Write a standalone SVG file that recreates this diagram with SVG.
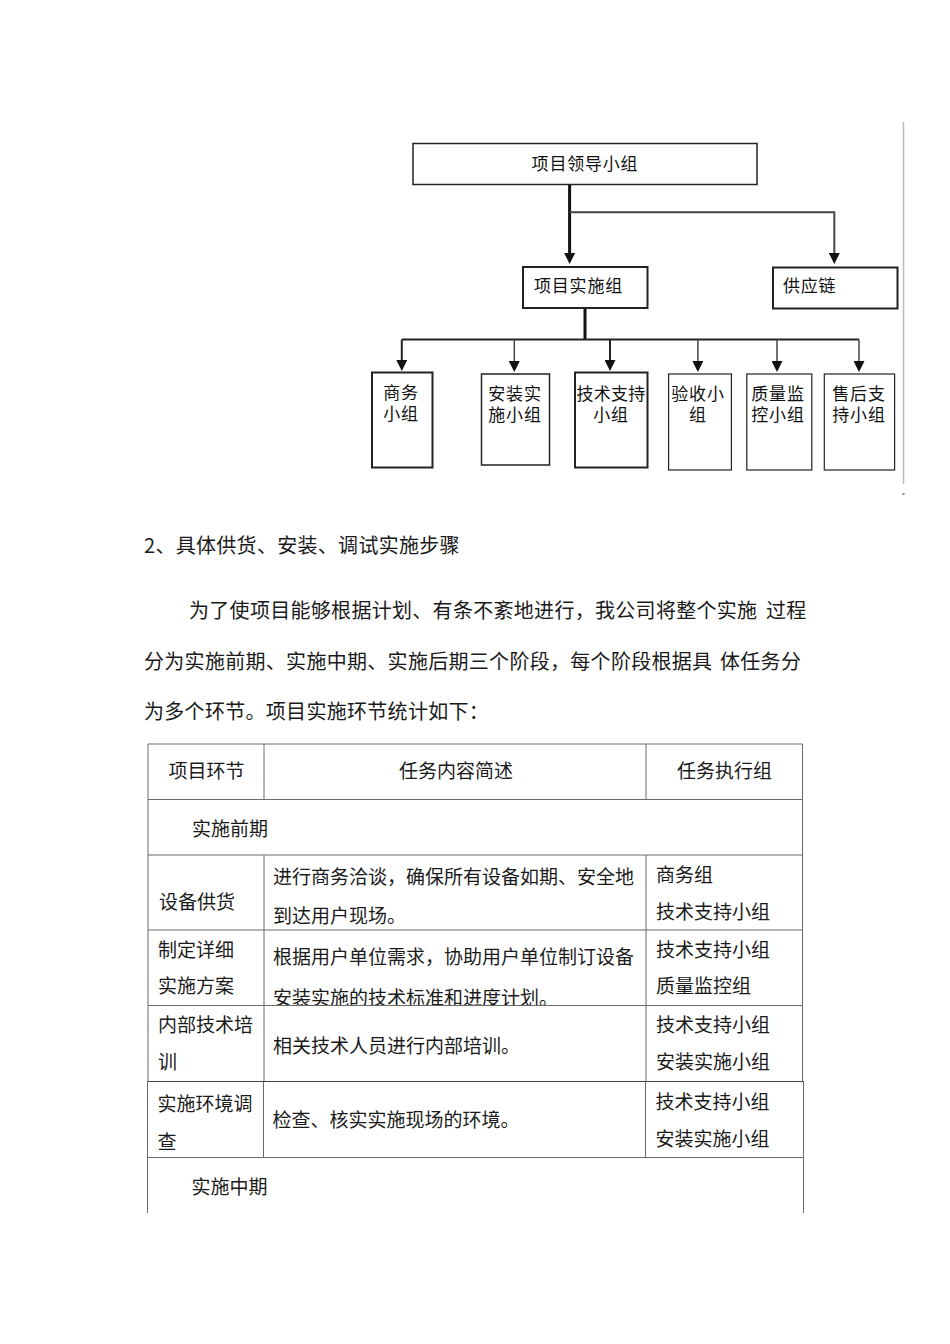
<svg xmlns="http://www.w3.org/2000/svg" width="950" height="1344" viewBox="0 0 950 1344">
<style>
.org{font-family:"Noto Sans CJK SC","Noto Sans",sans-serif;font-size:17px;fill:#111;letter-spacing:0.8px}
.mid{text-anchor:middle}
.body{font-family:"Noto Sans CJK SC","Noto Sans",sans-serif;font-size:20px;fill:#1a1a1a;letter-spacing:0.3px}
.tb{font-family:"Noto Sans CJK SC","Noto Sans",sans-serif;font-size:19px;fill:#1a1a1a}
.box{fill:#fff;stroke:#222}
.tl{stroke:#6a6a6a;stroke-width:1;fill:none}
.c{fill:none;marker-end:url(#ah)}
</style>
<defs>
<marker id="ah" markerUnits="userSpaceOnUse" markerWidth="11" markerHeight="11" viewBox="0 0 11 11" refX="3" refY="5.5" orient="auto">
<path d="M0,0 L11,5.5 L0,11 z" fill="#111"/>
</marker>
<clipPath id="r2clip"><rect x="264" y="930" width="382" height="75"/></clipPath>
</defs>
<rect width="950" height="1344" fill="#fff"/>

<!-- page edge line -->
<line x1="903.5" y1="122" x2="903.5" y2="484" stroke="#bbb" stroke-width="1.5"/>
<rect x="902.5" y="493" width="2" height="2" fill="#888"/>

<g id="connectors">
<path class="c" d="M569.6,184 V256" stroke="#111" stroke-width="3"/>
<path class="c" d="M569.6,212.3 H834.3 V256" stroke="#444" stroke-width="2"/>
<path d="M585,308 V339.5" stroke="#111" stroke-width="3" fill="none"/>
<path d="M401.8,339.5 H859" stroke="#222" stroke-width="2" fill="none"/>
<path class="c" d="M401.8,339.5 V363" stroke="#222" stroke-width="2"/>
<path class="c" d="M514.3,339.5 V364" stroke="#444" stroke-width="1.5"/>
<path class="c" d="M610,339.5 V363" stroke="#222" stroke-width="2"/>
<path class="c" d="M697.9,339.5 V364" stroke="#444" stroke-width="1.5"/>
<path class="c" d="M777,339.5 V364" stroke="#444" stroke-width="1.5"/>
<path class="c" d="M859,339.5 V364" stroke="#444" stroke-width="1.5"/>
</g>

<g id="leader">
<rect class="box" x="413" y="143.5" width="344" height="41" stroke-width="1.5"/>
<text class="org mid" x="585" y="169.5">项目领导小组</text>
</g>
<g id="impl">
<rect class="box" x="523" y="267" width="124.5" height="41" stroke="#111" stroke-width="2"/>
<text class="org" x="534" y="292">项目实施组</text>
</g>
<g id="supply">
<rect class="box" x="773" y="267.5" width="124.5" height="41" stroke="#111" stroke-width="2"/>
<text class="org" x="783" y="292">供应链</text>
</g>

<g id="biz">
<rect class="box" x="372" y="372.5" width="60.5" height="95" stroke="#111" stroke-width="2"/>
<text class="org mid" x="401" y="399">商务</text>
<text class="org mid" x="401" y="419.5">小组</text>
</g>
<g id="install">
<rect class="box" x="481.5" y="374" width="68" height="91" stroke-width="1.5"/>
<text class="org mid" x="515" y="400">安装实</text>
<text class="org mid" x="515" y="420.5">施小组</text>
</g>
<g id="tech">
<rect class="box" x="575" y="372.5" width="72.5" height="95" stroke="#111" stroke-width="2"/>
<text class="org mid" x="611" y="400" style="letter-spacing:0.3px">技术支持</text>
<text class="org mid" x="611" y="420.5">小组</text>
</g>
<g id="accept">
<rect class="box" x="668.6" y="374" width="62.8" height="96" stroke="#444" stroke-width="1.2"/>
<text class="org mid" x="698" y="400">验收小</text>
<text class="org mid" x="698" y="420.5">组</text>
</g>
<g id="quality">
<rect class="box" x="746.8" y="374" width="65" height="96" stroke="#444" stroke-width="1.2"/>
<text class="org mid" x="778" y="400">质量监</text>
<text class="org mid" x="778" y="420.5">控小组</text>
</g>
<g id="after">
<rect class="box" x="824.3" y="374" width="70.3" height="96" stroke="#444" stroke-width="1.2"/>
<text class="org mid" x="859" y="400">售后支</text>
<text class="org mid" x="859" y="420.5">持小组</text>
</g>

<!-- body text -->
<text class="body" x="144" y="552.6">2、具体供货、安装、调试实施步骤</text>
<text class="body" x="189" y="617.6">为了使项目能够根据计划、有条不紊地进行，我公司将整个实施<tspan x="766">过程</tspan></text>
<text class="body" x="144" y="668.6">分为实施前期、实施中期、实施后期三个阶段，每个阶段根据具<tspan x="720">体任务分</tspan></text>
<text class="body" x="144" y="718.6">为多个环节。项目实施环节统计如下：</text>

<!-- table -->
<g id="table-lines">
<path class="tl" d="M148,744 H802.5 M148,799.5 H802.5 M148,855 H802.5 M148,930 H802.5 M148,1005.5 H802.5 M147.5,1081.5 H803.5 M147.5,1157.5 H803.5"/>
<path class="tl" d="M148,744 V1081.5 M802.5,744 V1081.5 M264,744 V799.5 M646,744 V799.5 M264,855 V1081.5 M646,855 V1081.5"/>
<path class="tl" d="M147.5,1081.5 V1213 M803.5,1081.5 V1213 M263.5,1081.5 V1157.5 M645.5,1081.5 V1157.5"/>
<path d="M147.5,1081.5 H803.5" stroke="#444" stroke-width="1.2"/>
</g>
<g id="table-text">
<text class="tb mid" x="206.5" y="778.2">项目环节</text>
<text class="tb mid" x="456" y="778.2">任务内容简述</text>
<text class="tb mid" x="724.5" y="778.2">任务执行组</text>
<text class="tb" x="192" y="836.2">实施前期</text>

<text class="tb" x="159" y="909">设备供货</text>
<text class="tb" x="273" y="884.2">进行商务洽谈，确保所有设备如期、安全地</text>
<text class="tb" x="273" y="923.2">到达用户现场。</text>
<text class="tb" x="656" y="882.2">商务组</text>
<text class="tb" x="656" y="919.2">技术支持小组</text>

<text class="tb" x="158" y="956.5">制定详细</text>
<text class="tb" x="158" y="993.2">实施方案</text>
<g clip-path="url(#r2clip)">
<text class="tb" x="273" y="963.9">根据用户单位需求，协助用户单位制订设备</text>
<text class="tb" x="273" y="1005.2">安装实施的技术标准和进度计划。</text>
</g>
<text class="tb" x="656" y="956.5">技术支持小组</text>
<text class="tb" x="656" y="993.2">质量监控组</text>

<text class="tb" x="158" y="1032.2">内部技术培</text>
<text class="tb" x="158" y="1068.9">训</text>
<text class="tb" x="273" y="1052.9">相关技术人员进行内部培训。</text>
<text class="tb" x="656" y="1032.2">技术支持小组</text>
<text class="tb" x="656" y="1068.9">安装实施小组</text>

<text class="tb" x="157.5" y="1111.2">实施环境调</text>
<text class="tb" x="157.5" y="1148.9">查</text>
<text class="tb" x="272.5" y="1127.2">检查、核实实施现场的环境。</text>
<text class="tb" x="655.5" y="1108.9">技术支持小组</text>
<text class="tb" x="655.5" y="1145.5">安装实施小组</text>

<text class="tb" x="191.5" y="1193.9">实施中期</text>
</g>
</svg>
